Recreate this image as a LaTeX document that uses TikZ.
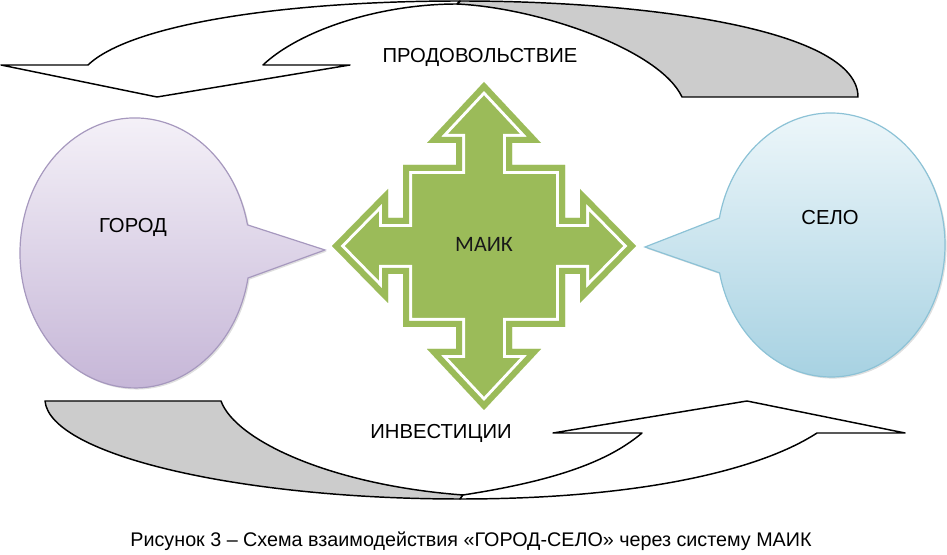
\documentclass[tikz,border=0pt]{standalone}
\usepackage{fontspec}
\setmainfont{Liberation Sans}
\newfontfamily\calibri{Carlito}
\usetikzlibrary{shadows}
\definecolor{greenM}{RGB}{155,187,89}
\definecolor{arrowgray}{RGB}{204,204,204}
\definecolor{gorodTop}{RGB}{246,243,249}
\definecolor{gorodBot}{RGB}{196,180,214}
\definecolor{gorodLine}{RGB}{166,152,190}
\definecolor{seloTop}{RGB}{240,248,251}
\definecolor{seloBot}{RGB}{164,208,225}
\definecolor{seloLine}{RGB}{140,194,214}
\tikzset{
  arrowline/.style={draw=black, line width=1.1pt, line join=round},
  lbl/.style={inner sep=0pt, font=\fontsize{15.2}{18}\selectfont},
  bubble/.style={line width=0.9pt, drop shadow={shadow xshift=1.2pt, shadow yshift=-1.2pt, opacity=0.25}},
}
\def\crosspath{(0,-164) -- (57,-103) -- (28,-103) -- (28,-81) -- (81,-81) -- (81,-28) -- (96,-28) -- (96,-57) -- (152,0) -- (96,57) -- (96,28) -- (81,28) -- (81,81) -- (28,81) -- (28,103) -- (57,103) -- (0,164) -- (-57,103) -- (-28,103) -- (-28,81) -- (-81,81) -- (-81,28) -- (-96,28) -- (-96,57) -- (-152,0) -- (-96,-57) -- (-96,-28) -- (-81,-28) -- (-81,-81) -- (-28,-81) -- (-28,-103) -- (-57,-103) -- cycle}
\begin{document}
\begin{tikzpicture}[x=0.75pt,y=-0.75pt]
\useasboundingbox (0,0) rectangle (947,555);

% top curved arrow (back part, gray)
\path[arrowline, fill=arrowgray] (460,1) .. controls (650,1) and (858,30) .. (858,97) -- (682,97) .. controls (660,50) and (540,8) .. (457,4) -- cycle;
% top curved arrow (front part, white, with head)
\path[arrowline, fill=white] (1,65) -- (157,97) -- (350,65) -- (263,65) .. controls (300,30) and (380,4) .. (457,4) -- (460,1) .. controls (280,1) and (130,25) .. (88,65) -- cycle;

% bottom curved arrow (back part, gray)
\path[arrowline, fill=arrowgray] (45,401) -- (221,401) .. controls (235,440) and (330,485) .. (463,495) -- (460,499) .. controls (240,499) and (50,455) .. (45,401) -- cycle;
% bottom curved arrow (front part, white, with head)
\path[arrowline, fill=white] (553,433) -- (747,401) -- (905,433) -- (817,433) .. controls (760,470) and (640,499) .. (460,499) -- (463,495) .. controls (560,480) and (610,460) .. (642,433) -- cycle;

% bubbles
\path[bubble, draw=gorodLine, top color=gorodTop, bottom color=gorodBot]
  (248,278) arc[start angle=10.7, end angle=348, x radius=115, y radius=135] -- (325,250) -- cycle;
\path[bubble, draw=seloLine, top color=seloTop, bottom color=seloBot]
  (719.4,218) arc[start angle=191.8, end angle=527.8, x radius=114, y radius=132] -- (645,247) -- cycle;

% central quad arrow
\begin{scope}[shift={(484,246)}]
  \fill[greenM] \crosspath;
  \begin{scope}
    \clip \crosspath;
    \draw[white, line width=13.5pt, line join=miter] \crosspath;
    \draw[greenM, line width=9pt, line join=miter] \crosspath;
  \end{scope}
\end{scope}

% labels
\node[lbl, anchor=base] (prod) at (480,63) {ПРОДОВОЛЬСТВИЕ};
\node[lbl, anchor=base] (inv) at (441,439) {ИНВЕСТИЦИИ};
\node[lbl, anchor=base] (gorod) at (133,233) {ГОРОД};
\node[lbl, anchor=base] (selo) at (830,225) {СЕЛО};
\node[inner sep=0pt, anchor=base, font=\calibri\fontsize{16.5}{20}\selectfont, text=black!90] (maik) at (484,252) {МАИК};
\node[inner sep=0pt, anchor=base, font=\fontsize{14.8}{18}\selectfont] (caption) at (471,547) {Рисунок 3 – Схема взаимодействия «ГОРОД-СЕЛО» через систему МАИК};
\end{tikzpicture}
\end{document}
